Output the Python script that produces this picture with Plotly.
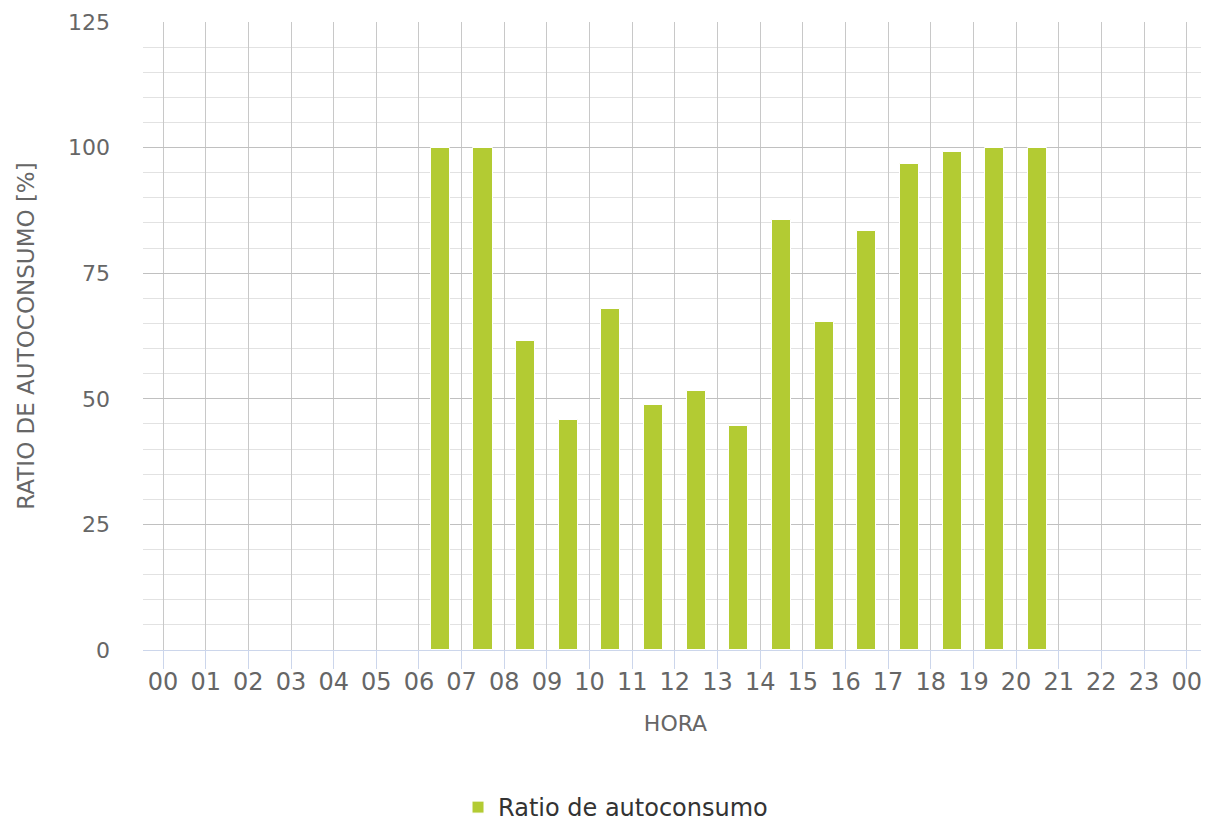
import plotly.graph_objects as go

hours = list(range(24))
tick_labels = ["00", "01", "02", "03", "04", "05", "06", "07", "08", "09", "10", "11",
               "12", "13", "14", "15", "16", "17", "18", "19", "20", "21", "22", "23", "00"]
ratio = [0, 0, 0, 0, 0, 0, 100, 100, 61.6, 45.8, 67.8, 48.7,
         51.6, 44.5, 85.6, 65.2, 83.5, 96.7, 99.1, 100, 100, 0, 0, 0]

GREEN = "#b3cb33"
FONT = "DejaVu Sans"

fig = go.Figure()
fig.add_trace(go.Bar(
    x=[h + 0.5 for h in hours],
    y=ratio,
    width=0.45,
    marker=dict(color=GREEN, line=dict(color="white", width=1)),
    name="Ratio de autoconsumo",
    showlegend=True,
))

fig.update_layout(
    width=1201, height=860,
    margin=dict(l=135, r=1, t=14, b=218),
    plot_bgcolor="white",
    paper_bgcolor="white",
    font=dict(family=FONT, color="#666666"),
    bargap=0,
    showlegend=True,
    legend=dict(orientation="h", x=0.2958, xanchor="left", y=-0.2508, yanchor="middle",
                font=dict(size=24, color="#333333", family=FONT)),
    xaxis=dict(
        range=[-0.47, 24.5],
        tickmode="array",
        tickvals=list(range(25)),
        ticktext=tick_labels,
        showgrid=True, gridcolor="#c8c8c8", gridwidth=1,
        showline=True, linecolor="#ccd6eb", linewidth=1,
        ticks="outside", ticklen=18, tickcolor="#ccd6eb",
        ticklabelstandoff=-8,
        tickfont=dict(size=24, color="#666666", family=FONT),
        title=dict(text="HORA", font=dict(size=22, color="#666666", family=FONT), standoff=20),
        zeroline=False,
    ),
    yaxis=dict(
        range=[0, 125],
        tickmode="linear", tick0=0, dtick=25,
        showgrid=True, gridcolor="#c0c0c0", gridwidth=1,
        minor=dict(dtick=5, showgrid=True, gridcolor="#e2e2e2", gridwidth=1),
        zeroline=False,
        ticks="", ticklabelstandoff=32,
        tickfont=dict(size=22, color="#666666", family=FONT),
        title=dict(text="RATIO DE AUTOCONSUMO [%]", font=dict(size=23, color="#666666", family=FONT),
                   standoff=26),
    ),
)

fig.write_html("out.html")
